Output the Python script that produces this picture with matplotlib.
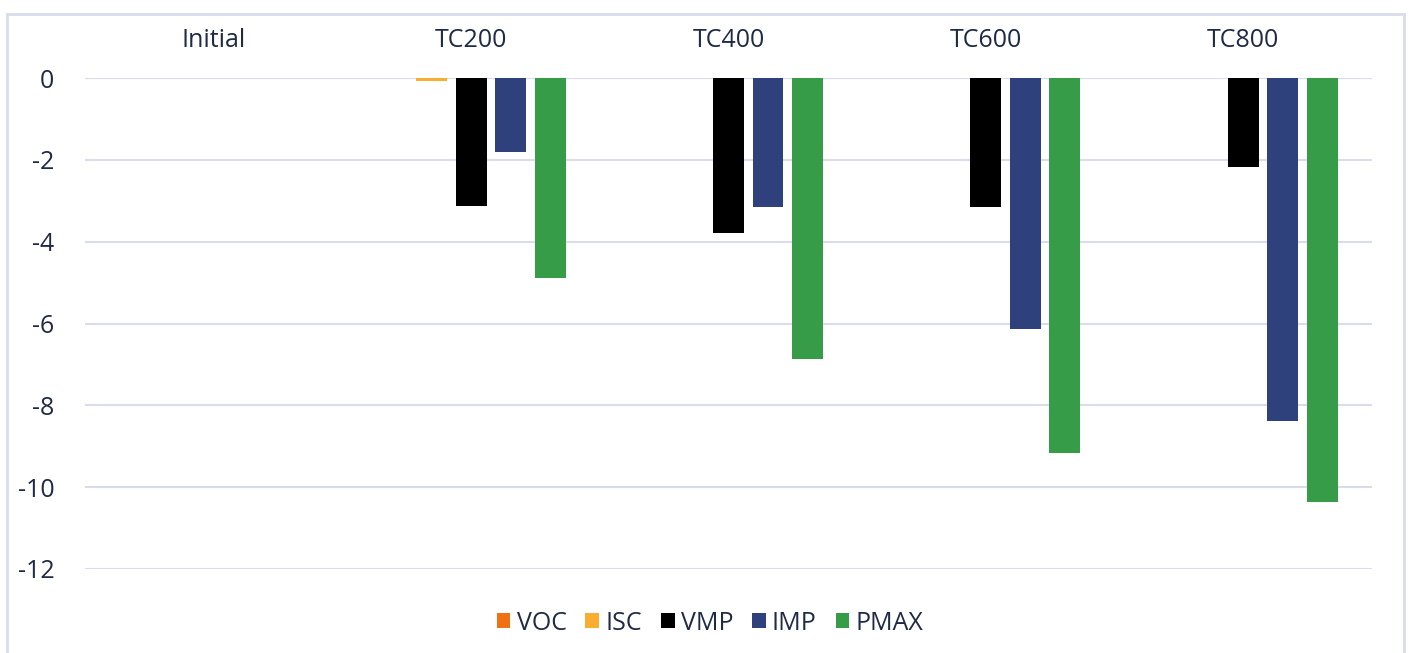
import numpy as np
import matplotlib.pyplot as plt
from matplotlib.patches import Rectangle

plt.rcParams['font.family'] = ['Open Sans', 'DejaVu Sans']

categories = ['Initial', 'TC200', 'TC400', 'TC600', 'TC800']
series = ['VOC', 'ISC', 'VMP', 'IMP', 'PMAX']
voc = [0, 0, 0, 0, 0]
isc = [0, -0.07, 0.02, 0.02, 0.02]
vmp = [0, -3.12, -3.80, -3.16, -2.17]
imp = [0, -1.82, -3.16, -6.14, -8.38]
pmax = [0, -4.88, -6.87, -9.17, -10.37]
values = [voc, isc, vmp, imp, pmax]
colors = ['#F07113', '#F9AE32', '#000000', '#2F417D', '#369C48']

text_col = '#1F2A44'
grid_col = '#D9DCEA'

fig = plt.figure(figsize=(14.1, 6.53), dpi=100)
ax = fig.add_axes([85 / 1410, 1 - 569 / 653, (1372 - 85) / 1410, (569 - 78) / 653])

x = np.arange(len(categories))
pitch = 0.1535
width = 0.12
for i, (name, vals, c) in enumerate(zip(series, values, colors)):
    ax.bar(x + (i - 2) * pitch, vals, width, color=c, label=name, zorder=3)

ax.set_xlim(-0.5, len(categories) - 0.5)
ax.set_ylim(-12, 0)
ax.set_yticks(np.arange(-12, 1, 2))
ax.set_yticklabels([str(v) for v in range(-12, 1, 2)])
ax.yaxis.grid(True, color=grid_col, linewidth=1.5, zorder=0)
ax.set_axisbelow(True)

ax.xaxis.tick_top()
ax.set_xticks(x)
ax.set_xticklabels(categories)
ax.tick_params(axis='x', length=0, pad=18, labelsize=18, labelcolor=text_col)
ax.tick_params(axis='y', length=0, pad=22, labelsize=18, labelcolor=text_col)
for s in ax.spines.values():
    s.set_visible(False)
ax.axhline(0, color=grid_col, linewidth=1.5, zorder=0)

leg = ax.legend(loc='center', bbox_to_anchor=((710 - 85) / (1372 - 85), (569 - 623) / (569 - 78)),
                ncol=5, frameon=False, fontsize=18, handlelength=0.55,
                handleheight=0.55, handletextpad=0.25, columnspacing=0.75)
for t in leg.get_texts():
    t.set_color(text_col)

# outer chart border (bottom edge is cut off in the original)
fig.patches.append(Rectangle((7 / 1410, -0.05), (1404 - 7) / 1410, 1.05 - 14 / 653,
                             transform=fig.transFigure, fill=False,
                             edgecolor=grid_col, linewidth=2))

fig.savefig('out.png', dpi=100)
